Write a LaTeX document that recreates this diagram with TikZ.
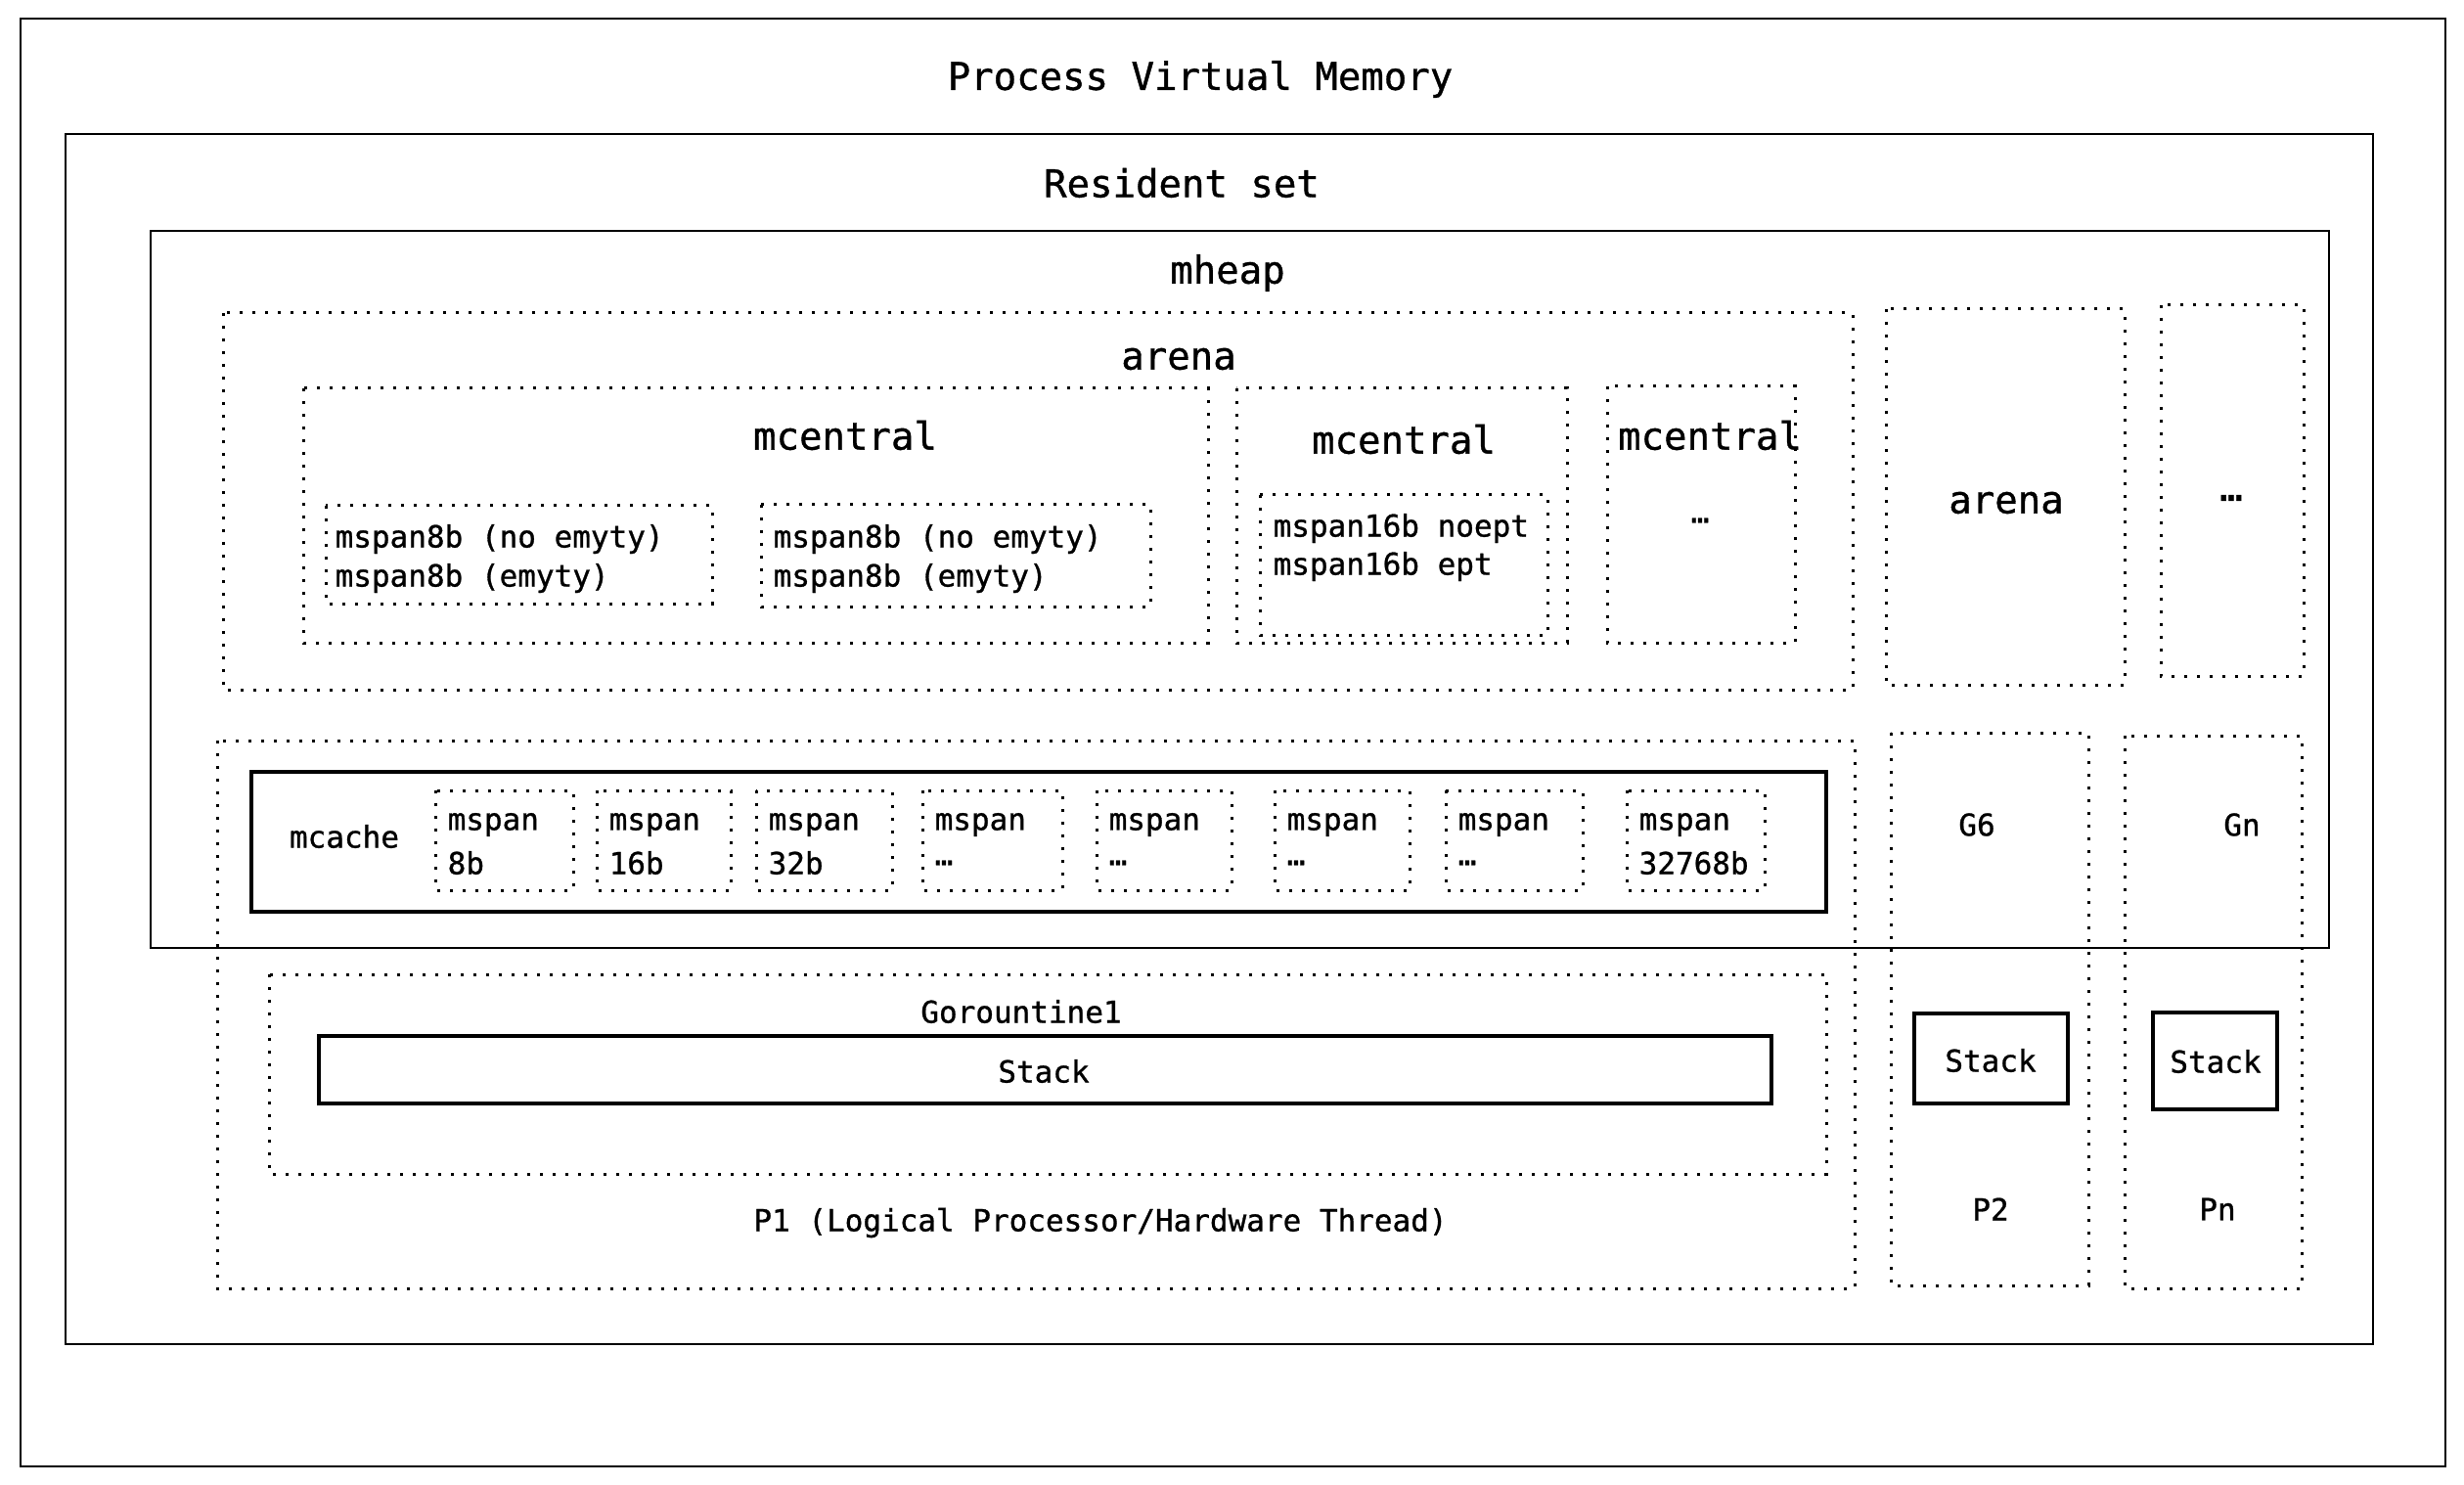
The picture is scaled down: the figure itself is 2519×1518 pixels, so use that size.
\documentclass[tikz,border=0pt]{standalone}
\usepackage{fontspec}
\setmainfont{DejaVu Sans Mono}[FakeBold=0.9]
\begin{document}
\begin{tikzpicture}[x=0.3pt,y=-0.3pt,
  solidbox/.style={draw, line width=0.6pt},
  heapbox/.style={draw, line width=0.75pt},
  sketchbox/.style={draw, line width=1.1pt},
  dotbox/.style={draw, line width=0.9pt, dash pattern=on 1pt off 2.9pt},
  big/.style={font=\fontsize{11.7}{14}\selectfont, inner sep=0pt},
  small/.style={font=\fontsize{9.3}{11}\selectfont, inner sep=0pt}]
\useasboundingbox (0,0) rectangle (2519,1518);
\fill[white] (0,0) rectangle (2519,1518);
% outer boxes
\draw[solidbox] (21,19) rectangle (2500,1499);
\node[big] (tpvm) at (1227,81) {Process Virtual Memory};
\draw[solidbox] (67,137) rectangle (2426,1374);
\node[big] (trs) at (1208,187) {Resident set};
\draw[heapbox] (154,236) rectangle (2381,969);
\node[big] (theap) at (1255,279) {mheap};
% arena 1
\draw[dotbox] (228,320) rectangle (1894,705);
\node[big] (tarena) at (1205,367) {arena};
% mcentral 1
\draw[dotbox] (310,397) rectangle (1235,657);
\node[big] (tmc1) at (864,445) {mcentral};
\draw[dotbox] (333,517) rectangle (728,617);
\node[small,anchor=west] (s1a) at (342,551) {mspan8b (no emyty)};
\node[small,anchor=west] (s1b) at (342,591) {mspan8b (emyty)};
\draw[dotbox] (778,516) rectangle (1176,620);
\node[small,anchor=west] (s2a) at (790,551) {mspan8b (no emyty)};
\node[small,anchor=west] (s2b) at (790,591) {mspan8b (emyty)};
% mcentral 2
\draw[dotbox] (1264,397) rectangle (1602,657);
\node[big] (tmc2) at (1435,449) {mcentral};
\draw[dotbox] (1288,506) rectangle (1582,649);
\node[small,anchor=west] (s3a) at (1301,540) {mspan16b noept};
\node[small,anchor=west] (s3b) at (1301,579) {mspan16b ept};
% mcentral 3
\draw[dotbox] (1643,395) rectangle (1835,657);
\node[big] (tmc3) at (1748,445) {mcentral};
\node[small] (dots3) at (1738,532) {…};
% arena 2 and more
\draw[dotbox] (1928,316) rectangle (2172,700);
\node[big] (tarena2) at (2051,514) {arena};
\draw[dotbox] (2209,312) rectangle (2355,691);
\node[big] (tmore) at (2281,509) {…};
% P1
\draw[dotbox] (222,757) rectangle (1896,1317);
\draw[sketchbox] (257,789) rectangle (1867,932);
\node[small] (tmcache) at (352,855) {mcache};
\foreach \xa/\xb/\la/\lb [count=\i] in {445/586/mspan/8b, 610/747/mspan/16b, 773/912/mspan/32b, 943/1086/mspan/…, 1121/1259/mspan/…, 1303/1441/mspan/…, 1478/1618/mspan/…, 1663/1804/mspan/32768b}{
  \draw[dotbox] (\xa,808) rectangle (\xb,910);
  \node[small,anchor=west] (c\i a) at (\xa+12,843) {\la};
  \node[small,anchor=west] (c\i b) at (\xa+12,882) {\lb};
}
\draw[dotbox] (275,996) rectangle (1867,1200);
\node[small] (tg1) at (1044,1034) {Gorountine1};
\draw[sketchbox] (326,1059) rectangle (1811,1128);
\node[small] (tst1) at (1067,1095) {Stack};
\node[small] (tp1) at (1125,1250) {P1 (Logical Processor/Hardware Thread)};
% P2
\draw[dotbox] (1933,749) rectangle (2135,1314);
\node[small] (tg6) at (2021,843) {G6};
\draw[sketchbox] (1957,1036) rectangle (2114,1128);
\node[small] (tst2) at (2035,1084) {Stack};
\node[small] (tp2) at (2035,1236) {P2};
% Pn
\draw[dotbox] (2172,752) rectangle (2353,1317);
\node[small] (tgn) at (2292,843) {Gn};
\draw[sketchbox] (2201,1035) rectangle (2328,1134);
\node[small] (tstn) at (2265,1085) {Stack};
\node[small] (tpn) at (2267,1236) {Pn};
\end{tikzpicture}
\end{document}
